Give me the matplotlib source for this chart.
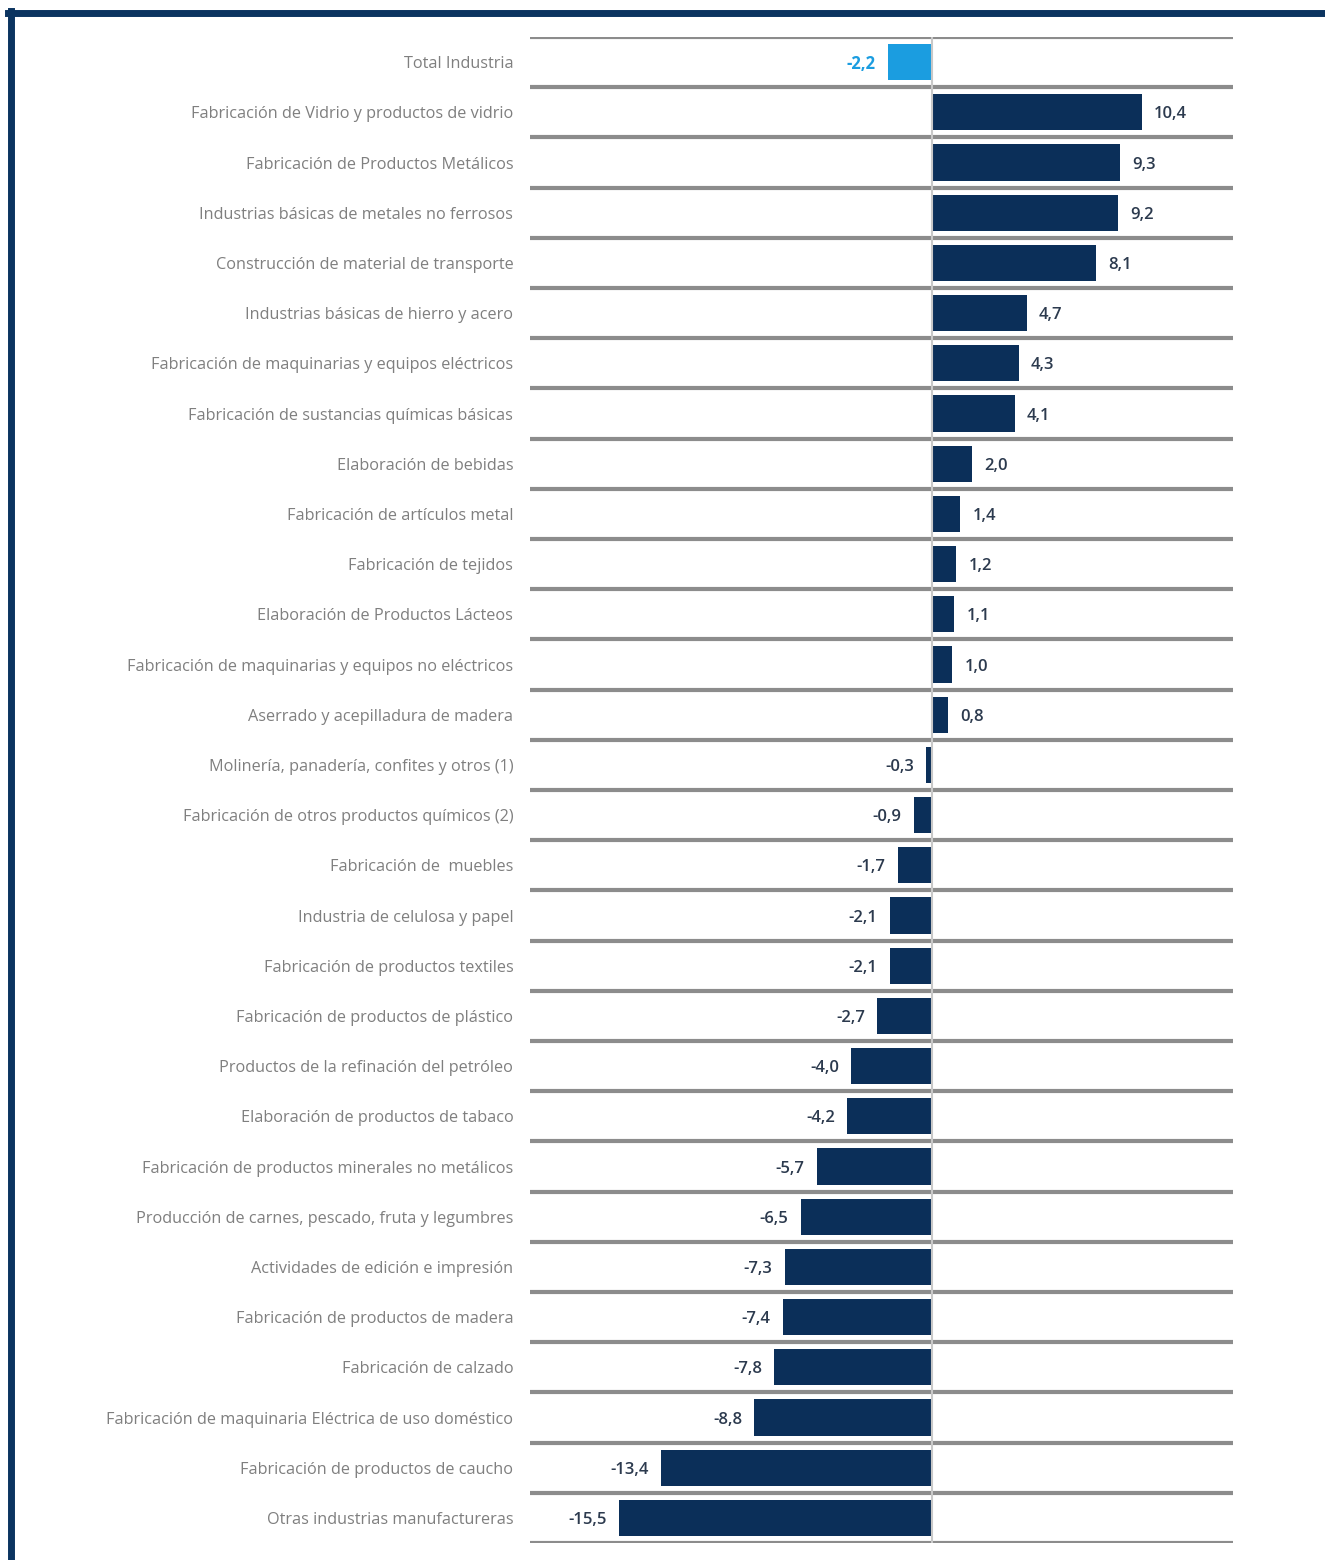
import matplotlib.pyplot as plt
import numpy as np
from matplotlib.lines import Line2D

categories = [
    "Total Industria",
    "Fabricación de Vidrio y productos de vidrio",
    "Fabricación de Productos Metálicos",
    "Industrias básicas de metales no ferrosos",
    "Construcción de material de transporte",
    "Industrias básicas de hierro y acero",
    "Fabricación de maquinarias y equipos eléctricos",
    "Fabricación de sustancias químicas básicas",
    "Elaboración de bebidas",
    "Fabricación de artículos metal",
    "Fabricación de tejidos",
    "Elaboración de Productos Lácteos",
    "Fabricación de maquinarias y equipos no eléctricos",
    "Aserrado y acepilladura de madera",
    "Molinería, panadería, confites y otros (1)",
    "Fabricación de otros productos químicos (2)",
    "Fabricación de  muebles",
    "Industria de celulosa y papel",
    "Fabricación de productos textiles",
    "Fabricación de productos de plástico",
    "Productos de la refinación del petróleo",
    "Elaboración de productos de tabaco",
    "Fabricación de productos minerales no metálicos",
    "Producción de carnes, pescado, fruta y legumbres",
    "Actividades de edición e impresión",
    "Fabricación de productos de madera",
    "Fabricación de calzado",
    "Fabricación de maquinaria Eléctrica de uso doméstico",
    "Fabricación de productos de caucho",
    "Otras industrias manufactureras",
]
values = [-2.2, 10.4, 9.3, 9.2, 8.1, 4.7, 4.3, 4.1, 2.0, 1.4, 1.2, 1.1, 1.0, 0.8,
          -0.3, -0.9, -1.7, -2.1, -2.1, -2.7, -4.0, -4.2, -5.7, -6.5, -7.3, -7.4,
          -7.8, -8.8, -13.4, -15.5]

navy = "#0b2f59"
light = "#1b9de0"

fig = plt.figure(figsize=(13.25, 15.6), dpi=100)
ax = fig.add_axes([530 / 1325, 1 - 1543 / 1560, 703 / 1325, 1506 / 1560])

n = len(categories)
y = np.arange(n)
colors = [light] + [navy] * (n - 1)
ax.barh(y, values, height=0.72, color=colors, zorder=3)

ax.set_xlim(-19.9, 14.9)
ax.set_ylim(n - 0.5, -0.5)

# separators between categories
for k in range(n + 1):
    ax.axhline(k - 0.5, color="#8c8c8c", lw=3, zorder=2)
ax.axvline(0, color="#c8c8c8", lw=1.5, zorder=4)

for i, v in enumerate(values):
    txt = f"{v:.1f}".replace(".", ",")
    c = light if i == 0 else "#2c3a4e"
    w = "bold" if i == 0 else "semibold"
    if v >= 0:
        ax.text(v + 0.6, i, txt, ha="left", va="center_baseline", fontsize=12,
                color=c, fontweight=w, family="Open Sans")
    else:
        ax.text(v - 0.6, i, txt, ha="right", va="center_baseline", fontsize=12,
                color=c, fontweight=w, family="Open Sans")

ax.set_yticks(y)
ax.set_yticklabels(categories, fontsize=11.7, color="#7f7f7f", family="Open Sans",
                   va="center_baseline")
ax.tick_params(axis="y", length=0, pad=12)
ax.set_xticks([])
for s in ax.spines.values():
    s.set_visible(False)

# frame on left and top
fig.add_artist(Line2D([11 / 1325, 11 / 1325], [0, 1 - 11 / 1560], color="#0b3460",
                      lw=5, transform=fig.transFigure))
fig.add_artist(Line2D([8 / 1325, 1], [1 - 13 / 1560, 1 - 13 / 1560], color="#0b3460",
                      lw=5, transform=fig.transFigure))

fig.savefig("out.png", dpi=100)
